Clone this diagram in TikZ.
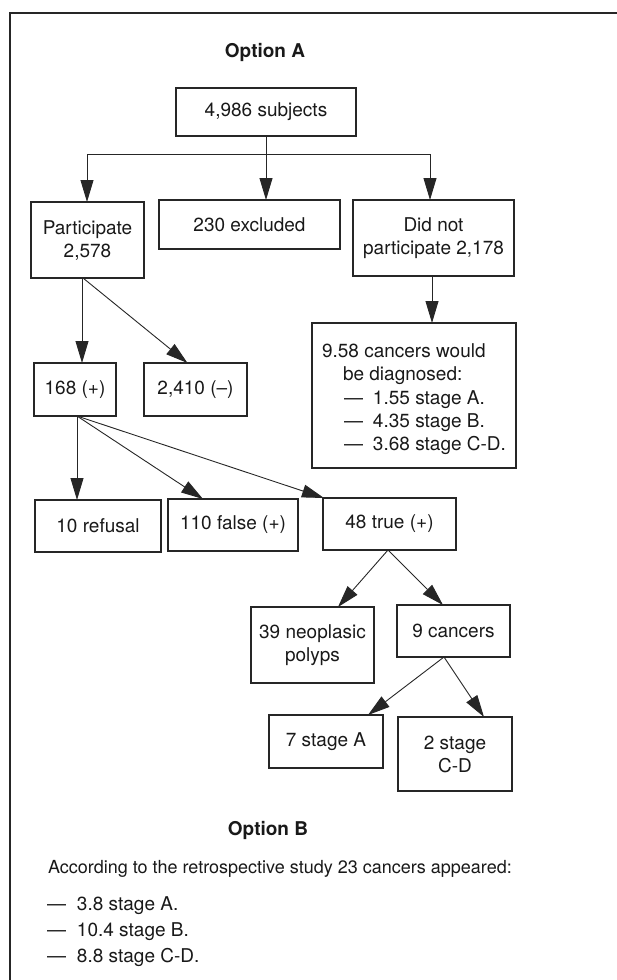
\documentclass[tikz,border=0pt]{standalone}
\usepackage{fontspec}
\setmainfont{TeX Gyre Heros}
\usetikzlibrary{arrows.meta}
\begin{document}
\begin{tikzpicture}[x=1pt,y=-1pt,
  every node/.style={inner sep=0pt, outer sep=0pt, text=black!90},
  txt/.style={font=\fontsize{19}{23}\selectfont},
  box/.style={draw=black!85, line width=1.2pt, align=center, txt},
  ttl/.style={font=\fontsize{19}{23}\selectfont\bfseries},
  conn/.style={draw=black!85, line width=0.9pt},
  arr/.style={conn, -{Triangle[length=22pt,width=13pt]}},
  frame/.style={draw=black!85, line width=1.3pt}
]
\useasboundingbox (0,0) rectangle (617,980);
% frame (top and left edges)
\coordinate (fc) at (10,13);
\coordinate (fr) at (617,13);
\coordinate (fb) at (10,980);
\draw[frame] (fr) -- (fc) -- (fb);

\node[ttl] (tA) at (265,52) {Option A};

\node[box, minimum width=180pt, minimum height=48pt] (subj) at (266,112) {4,986 subjects};
\node[box, minimum width=113pt, minimum height=76pt] (part) at (87.5,240) {Participate\\2,578};
\node[box, minimum width=181pt, minimum height=49pt] (excl) at (249.5,224.5) {230 excluded};
\node[box, minimum width=161pt, minimum height=76pt] (didnot) at (433.5,238) {Did not\\participate 2,178};

\node[box, minimum width=204pt, minimum height=145pt] (b958) at (414,395.5) {};
\node[txt, anchor=base west] (l1) at (322,357) {9.58 cancers would};
\node[txt, anchor=base west] (l2) at (343,380) {be diagnosed:};
\node[txt, anchor=base west] (l3) at (344,404) {—\hspace{10pt}1.55 stage A.};
\node[txt, anchor=base west] (l4) at (344,427) {—\hspace{10pt}4.35 stage B.};
\node[txt, anchor=base west] (l5) at (344,450) {—\hspace{10pt}3.68 stage C-D.};

\node[box, minimum width=82pt, minimum height=53pt] (pos) at (75,389.5) {168 (+)};
\node[box, minimum width=103pt, minimum height=53pt] (neg) at (195.5,389.5) {2,410 (–)};

\node[box, minimum width=126pt, minimum height=52pt] (ref) at (98,526) {10 refusal};
\node[box, minimum width=130pt, minimum height=52pt] (fal) at (233,525) {110 false (+)};
\node[box, minimum width=133pt, minimum height=52pt] (tru) at (389.5,524) {48 true (+)};

\node[box, minimum width=123pt, minimum height=76pt] (pol) at (312.5,645) {39 neoplasic\\polyps};
\node[box, minimum width=113pt, minimum height=52pt] (c9) at (453.5,631) {9 cancers};

\node[box, minimum width=114pt, minimum height=53pt] (sa) at (326,741.5) {7 stage A};
\node[box, minimum width=114pt, minimum height=74pt] (scd) at (455,754) {2 stage\\C-D};

% connectors
\coordinate (br) at (266,154);
\draw[conn] (subj.south) -- (br);
\draw[arr] (br) -| ([xshift=-0.5pt]part.north);
\draw[arr] (br) -- (br |- excl.north);
\draw[arr] (br) -| ([xshift=-3.5pt]didnot.north);
\draw[arr] ([xshift=-1.5pt]didnot.south) -- ([xshift=-1.5pt]didnot.south |- b958.north);

\draw[arr] ([xshift=-5.5pt]part.south) -- ([xshift=-5.5pt]part.south |- pos.north);
\draw[arr] ([xshift=-4.5pt]part.south) -- ([xshift=-8pt]neg.north);

\draw[arr] ([xshift=2pt]pos.south) -- ([xshift=2pt]pos.south |- ref.north);
\draw[arr] ([xshift=2pt]pos.south) -- ([xshift=-30pt]fal.north);
\draw[arr] ([xshift=2pt]pos.south) -- ([xshift=1pt]tru.north west);

\draw[arr] ([xshift=-1.5pt]tru.south) -- ([xshift=25.5pt]pol.north);
\draw[arr] ([xshift=-1.5pt]tru.south) -- ([xshift=-10.5pt]c9.north);

\draw[arr] ([xshift=-9.5pt]c9.south) -- ([xshift=42pt]sa.north);
\draw[arr] ([xshift=-9.5pt]c9.south) -- ([xshift=29pt]scd.north);

\node[ttl] (tB) at (268,830) {Option B};
\node[font=\fontsize{18}{22}\selectfont, anchor=base west] (acc) at (48,873) {According to the retrospective study 23 cancers appeared:};
\node[txt, anchor=base west] (m1) at (47,910) {—\hspace{11pt}3.8 stage A.};
\node[txt, anchor=base west] (m2) at (47,936) {—\hspace{11pt}10.4 stage B.};
\node[txt, anchor=base west] (m3) at (47,962) {—\hspace{11pt}8.8 stage C-D.};
\end{tikzpicture}
\end{document}
